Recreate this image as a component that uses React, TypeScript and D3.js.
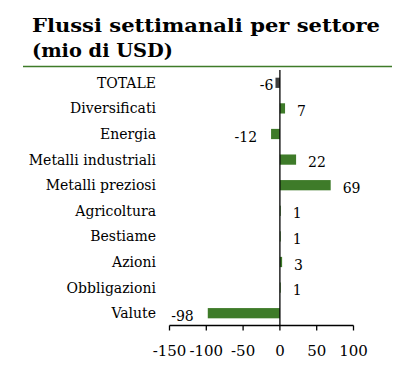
import React from "react";
import * as d3 from "d3";

const categories = [
  "TOTALE",
  "Diversificati",
  "Energia",
  "Metalli industriali",
  "Metalli preziosi",
  "Agricoltura",
  "Bestiame",
  "Azioni",
  "Obbligazioni",
  "Valute",
];
const values = [-6, 7, -12, 22, 69, 1, 1, 3, 1, -98];
const ticks = [-150, -100, -50, 0, 50, 100];
const titleLines = ["Flussi settimanali per settore", "(mio di USD)"];

const W = 413;
const H = 382;
const GREEN = "#3e7b29";
const DARK = "#404040";
const FONT = "'DejaVu Serif', serif";

export default function App() {
  const x = d3.scaleLinear().domain([-150, 100]).range([169.5, 353.5]);
  const y = d3
    .scaleBand<string>()
    .domain(categories)
    .range([70, 326])
    .paddingInner(0.6)
    .paddingOuter(0.3);
  const axisY = 325.5;
  const x0 = x(0);

  return (
    <svg
      width={W}
      height={H}
      style={{ position: "absolute", left: 0, top: 0, background: "#fff" }}
    >
      <text
        x={32}
        y={32}
        fontFamily={FONT}
        fontWeight="bold"
        fontSize={19}
        textLength={348}
        lengthAdjust="spacingAndGlyphs"
        fill="#000"
      >
        {titleLines[0]}
      </text>
      <text
        x={32}
        y={57}
        fontFamily={FONT}
        fontWeight="bold"
        fontSize={19}
        textLength={141}
        lengthAdjust="spacingAndGlyphs"
        fill="#000"
      >
        {titleLines[1]}
      </text>
      <line x1={23} x2={392} y1={66.5} y2={66.5} stroke={GREEN} strokeWidth={1.3} />

      {categories.map((c, i) => {
        const v = values[i];
        const by = y(c)!;
        const bw = y.bandwidth();
        const cy = by + bw / 2;
        const left = Math.min(x(v), x0);
        const width = Math.abs(x(v) - x0);
        const lx = v >= 0 ? x(v) + 12 : x(v) - (i === 0 ? 2 : 14);
        return (
          <g key={c}>
            <text
              x={156}
              y={cy + 5}
              textAnchor="end"
              fontFamily={FONT}
              fontSize={14}
              fill="#000"
            >
              {c}
            </text>
            <rect
              x={left}
              y={by}
              width={Math.max(width, 0.8)}
              height={bw}
              fill={i === 0 ? DARK : GREEN}
            />
            <text
              x={lx}
              y={cy + 7.5}
              textAnchor={v >= 0 ? "start" : "end"}
              fontFamily={FONT}
              fontSize={14}
              fill="#000"
            >
              {v}
            </text>
          </g>
        );
      })}

      <line x1={x0} x2={x0} y1={70} y2={axisY} stroke="#000" strokeWidth={1.3} />
      <line x1={x(-150)} x2={x(100)} y1={axisY} y2={axisY} stroke="#000" strokeWidth={1.3} />
      {ticks.map((t) => (
        <g key={t}>
          <line x1={x(t)} x2={x(t)} y1={axisY} y2={axisY + 5} stroke="#000" strokeWidth={1.3} />
          <text
            x={x(t)}
            y={356}
            textAnchor="middle"
            fontFamily={FONT}
            fontSize={15}
            fill="#000"
          >
            {t}
          </text>
        </g>
      ))}
    </svg>
  );
}
